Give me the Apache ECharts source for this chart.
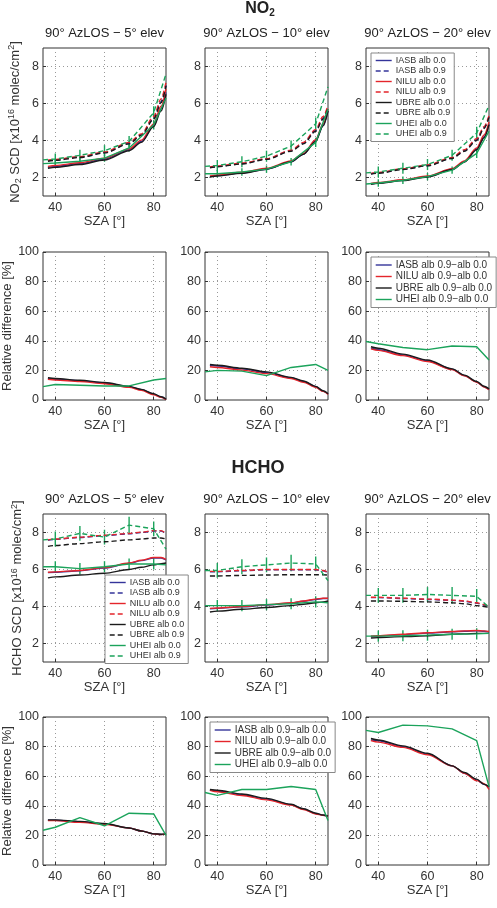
<!DOCTYPE html>
<html>
<head>
<meta charset="utf-8">
<script src="https://cdn.jsdelivr.net/npm/echarts@6/dist/echarts.min.js"></script>
<style>
  html, body { margin: 0; padding: 0; background: #fff; }
  #main { width: 497px; height: 908px; }
</style>
</head>
<body>
<div id="main"></div>
<script>
// SZA grids (model curves are dense, UHEI is piecewise)
var SZA_MOD = [37, 40, 50, 60, 70, 75, 80, 83, 85];
var SZA_UHEI = [35, 40, 50, 60, 70, 80, 85];
var X_TICKS = [40, 60, 80];
var Y_TICKS_SCD = [2, 4, 6, 8];
var ELEVS = ['5', '10', '20'];

// NO2 SCD 5° elev
var n5_IASB_00 = [2.55, 2.6, 2.75, 3.0, 3.5, 3.95, 4.8, 5.7, 6.6];
var n5_NILU_00 = [2.6, 2.65, 2.8, 3.05, 3.55, 4.02, 4.9, 5.85, 6.8];
var n5_UBRE_00 = [2.5, 2.55, 2.7, 2.95, 3.45, 3.9, 4.75, 5.6, 6.5];
var n5_IASB_09 = [2.9, 2.95, 3.1, 3.35, 3.85, 4.3, 5.2, 6.1, 7.0];
var n5_NILU_09 = [2.93, 2.98, 3.13, 3.38, 3.9, 4.36, 5.3, 6.25, 7.15];
var n5_UBRE_09 = [2.88, 2.93, 3.08, 3.33, 3.82, 4.28, 5.15, 6.05, 6.95];
var n5_UHEI_00 = [2.75, 2.78, 2.88, 3.05, 3.6, 4.85, 6.3];
var n5_UHEI_09 = [2.95, 3.0, 3.2, 3.45, 3.95, 5.5, 7.6];
// NO2 SCD 10° elev
var n10_IASB_00 = [2.05, 2.1, 2.25, 2.45, 2.85, 3.25, 4.0, 4.8, 5.6];
var n10_NILU_00 = [2.08, 2.13, 2.28, 2.5, 2.9, 3.3, 4.05, 4.9, 5.7];
var n10_UBRE_00 = [2.03, 2.08, 2.23, 2.45, 2.85, 3.25, 3.95, 4.8, 5.6];
var n10_IASB_09 = [2.55, 2.6, 2.75, 3.0, 3.45, 3.85, 4.55, 5.2, 5.8];
var n10_NILU_09 = [2.57, 2.62, 2.78, 3.02, 3.48, 3.9, 4.6, 5.3, 5.9];
var n10_UBRE_09 = [2.53, 2.58, 2.73, 2.98, 3.42, 3.82, 4.5, 5.15, 5.75];
var n10_UHEI_00 = [2.2, 2.2, 2.3, 2.45, 2.85, 3.9, 5.7];
var n10_UHEI_09 = [2.6, 2.65, 2.85, 3.15, 3.7, 4.9, 6.9];
// NO2 SCD 20° elev
var n20_IASB_00 = [1.65, 1.7, 1.85, 2.05, 2.45, 2.85, 3.55, 4.2, 4.9];
var n20_NILU_00 = [1.68, 1.73, 1.88, 2.08, 2.48, 2.9, 3.6, 4.3, 5.0];
var n20_UBRE_00 = [1.63, 1.68, 1.83, 2.03, 2.43, 2.83, 3.5, 4.15, 4.85];
var n20_IASB_09 = [2.2, 2.25, 2.45, 2.65, 3.05, 3.45, 4.05, 4.7, 5.3];
var n20_NILU_09 = [2.22, 2.27, 2.47, 2.68, 3.08, 3.5, 4.1, 4.75, 5.35];
var n20_UBRE_09 = [2.18, 2.23, 2.43, 2.63, 3.03, 3.42, 4.0, 4.65, 5.25];
var n20_UHEI_00 = [1.65, 1.7, 1.85, 2.05, 2.4, 3.3, 4.5];
var n20_UHEI_09 = [2.25, 2.3, 2.5, 2.7, 3.2, 4.4, 5.9];
// UHEI error bars (NO2)
var nErr_00 = [0, 0.2, 0.2, 0.2, 0.2, 0.25, 0];
var nErr_09 = [0, 0.3, 0.3, 0.3, 0.3, 0.35, 0];

// NO2 relative difference
var nr5_IASB = [14.5, 14, 13, 11.5, 9, 7, 4, 2, 0.5];
var nr5_NILU = [14, 13.5, 12.5, 11, 8.5, 6.5, 3.5, 1.8, 0.3];
var nr5_UBRE = [15, 14.5, 13.3, 11.8, 9.2, 7.2, 4.2, 2.2, 0.6];
var nr5_UHEI = [9, 10.5, 10, 9.5, 9.5, 13.5, 14.5];
var nr10_IASB = [23.5, 23, 21, 18.5, 15, 12.5, 9, 6, 4];
var nr10_NILU = [22.5, 22, 20.2, 17.8, 14.5, 12, 8.6, 5.8, 3.8];
var nr10_UBRE = [24, 23.5, 21.5, 19, 15.3, 12.8, 9.2, 6.2, 4.2];
var nr10_UHEI = [19, 20, 19.5, 16.5, 22, 24, 20];
var nr20_IASB = [35, 34, 30.5, 26.5, 20.8, 16.5, 12.2, 9, 7.2];
var nr20_NILU = [34.5, 33.5, 30, 26, 20.5, 16.3, 12, 8.8, 7];
var nr20_UBRE = [36, 35, 31, 27, 21, 16.8, 12.5, 9.3, 7.5];
var nr20_UHEI = [39.5, 38, 35.5, 34, 36.5, 36, 27];

// HCHO SCD 5° elev
var h5_IASB_00 = [5.83, 5.85, 5.93, 6.08, 6.33, 6.48, 6.62, 6.62, 6.52];
var h5_NILU_00 = [5.85, 5.87, 5.95, 6.1, 6.35, 6.5, 6.65, 6.65, 6.55];
var h5_UBRE_00 = [5.55, 5.6, 5.7, 5.8, 6.0, 6.12, 6.25, 6.32, 6.35];
var h5_IASB_09 = [7.58, 7.63, 7.73, 7.83, 7.93, 8.0, 8.08, 8.08, 7.93];
var h5_NILU_09 = [7.6, 7.65, 7.75, 7.85, 7.95, 8.02, 8.1, 8.1, 7.95];
var h5_UBRE_09 = [7.25, 7.3, 7.4, 7.5, 7.6, 7.65, 7.7, 7.7, 7.65];
var h5_UHEI_00 = [6.15, 6.15, 6.05, 6.15, 6.3, 6.3, 6.25];
var h5_UHEI_09 = [7.6, 7.65, 7.95, 7.75, 8.4, 8.2, 7.1];
// HCHO SCD 10° elev
var h10_IASB_00 = [3.88, 3.9, 3.98, 4.08, 4.18, 4.28, 4.38, 4.43, 4.43];
var h10_NILU_00 = [3.9, 3.92, 4.0, 4.1, 4.2, 4.3, 4.4, 4.45, 4.45];
var h10_UBRE_00 = [3.7, 3.75, 3.85, 3.95, 4.05, 4.12, 4.2, 4.25, 4.3];
var h10_IASB_09 = [5.88, 5.88, 5.93, 5.98, 5.98, 5.98, 5.98, 5.93, 5.83];
var h10_NILU_09 = [5.9, 5.9, 5.95, 6.0, 6.0, 6.0, 6.0, 5.95, 5.85];
var h10_UBRE_09 = [5.65, 5.65, 5.68, 5.7, 5.72, 5.72, 5.72, 5.72, 5.7];
var h10_UHEI_00 = [4.05, 4.05, 4.05, 4.1, 4.15, 4.25, 4.2];
var h10_UHEI_09 = [5.95, 5.95, 6.15, 6.25, 6.35, 6.3, 5.4];
// HCHO SCD 20° elev
var h20_IASB_00 = [2.38, 2.4, 2.48, 2.56, 2.63, 2.66, 2.68, 2.66, 2.63];
var h20_NILU_00 = [2.4, 2.42, 2.5, 2.58, 2.65, 2.68, 2.7, 2.68, 2.65];
var h20_UBRE_00 = [2.3, 2.32, 2.37, 2.42, 2.5, 2.52, 2.55, 2.55, 2.55];
var h20_IASB_09 = [4.48, 4.48, 4.43, 4.38, 4.33, 4.28, 4.18, 4.08, 3.98];
var h20_NILU_09 = [4.5, 4.5, 4.45, 4.4, 4.35, 4.3, 4.2, 4.1, 4.0];
var h20_UBRE_09 = [4.3, 4.3, 4.28, 4.25, 4.2, 4.15, 4.05, 4.0, 3.95];
var h20_UHEI_00 = [2.4, 2.4, 2.42, 2.45, 2.5, 2.52, 2.55];
var h20_UHEI_09 = [4.6, 4.6, 4.6, 4.65, 4.6, 4.55, 3.95];
// UHEI error bars (HCHO)
var hErr_00 = [0, 0.3, 0.3, 0.3, 0.3, 0.3, 0];
var hErr_09 = [0, 0.4, 0.4, 0.4, 0.45, 0.4, 0];

// HCHO relative difference
var hr5_IASB = [30.3, 30.2, 29.2, 27.8, 25, 23, 21, 20.6, 21];
var hr5_NILU = [30, 30, 28.8, 27.5, 25, 23, 21, 20.5, 21];
var hr5_UBRE = [30.5, 30.5, 29.5, 28, 25, 23, 21, 20.8, 21];
var hr5_UHEI = [23.5, 25.5, 32, 26.5, 35, 34.5, 20];
var hr10_IASB = [50.8, 50, 47.5, 44.5, 40.8, 37.8, 34.8, 33.6, 33];
var hr10_NILU = [50.5, 49.5, 47, 44, 40.5, 37.5, 34.5, 33.5, 33];
var hr10_UBRE = [51, 50.5, 48, 45, 41, 38, 35, 33.8, 33];
var hr10_UHEI = [49, 47, 51, 51, 53, 51, 30];
var hr20_IASB = [84.5, 84, 80, 75, 67, 62, 57.5, 54.5, 52.5];
var hr20_NILU = [84, 83, 79.5, 74.5, 67, 62, 57, 55, 51];
var hr20_UBRE = [85.5, 84.5, 80.5, 75.5, 67, 62.5, 58, 54.5, 53];
var hr20_UHEI = [91, 89.5, 94.5, 94, 92, 84, 53];

var COLORS = { IASB: '#34349a', NILU: '#e4252b', UBRE: '#1b1b1b', UHEI: '#1ba35b' };
var GRID_LEFT = [43, 205, 366];
var GRID_TOP = [48, 252, 514, 717];
var GRID_W = 123, GRID_H = 148;
var FONT = 'Liberation Sans, Arial, sans-serif';

function pts(xs, ys) { return xs.map(function (x, i) { return [x, ys[i]]; }); }
function errPts(xs, ys, es) { return xs.map(function (x, i) { return [x, ys[i], es[i]]; }); }

var grids = [], xAxes = [], yAxes = [], series = [];

function addPanel(r, c, isScd, yName) {
  var idx = grids.length;
  grids.push({ left: GRID_LEFT[c], top: GRID_TOP[r], width: GRID_W, height: GRID_H,
    show: true, borderColor: '#333', borderWidth: 1, backgroundColor: '#fff' });
  xAxes.push({ gridIndex: idx, type: 'value', min: 35, max: 85,
    name: 'SZA [°]', nameLocation: 'middle', nameGap: 19,
    nameTextStyle: { fontSize: 13, color: '#333', fontFamily: FONT },
    axisLine: { show: false },
    axisTick: { inside: true, length: 3, lineStyle: { color: '#333' }, customValues: X_TICKS },
    axisLabel: { customValues: X_TICKS, fontSize: 12.5, color: '#333', margin: 5, fontFamily: FONT },
    splitLine: { show: true, lineStyle: { type: [1, 3], color: '#999' } } });
  var y = { gridIndex: idx, type: 'value', min: isScd ? 1 : 0, max: isScd ? 9 : 100,
    axisLine: { show: false },
    axisTick: { inside: true, length: 3, lineStyle: { color: '#333' } },
    axisLabel: { fontSize: 12.5, color: '#333', margin: 4, fontFamily: FONT },
    splitLine: { show: true, lineStyle: { type: [1, 3], color: '#999' } } };
  if (isScd) {
    y.axisTick.customValues = Y_TICKS_SCD;
    y.axisLabel.customValues = Y_TICKS_SCD;
  } else {
    y.interval = 20;
  }
  if (yName) {
    y.name = yName.text;
    y.nameLocation = 'middle';
    y.nameGap = yName.gap;
    y.nameTextStyle = { fontSize: 13, color: '#333', fontFamily: FONT,
      rich: { sub: { fontSize: 9, color: '#333', padding: [7, 0, 0, 0], fontFamily: FONT },
              sup: { fontSize: 9, color: '#333', padding: [0, 0, 6, 0], fontFamily: FONT } } };
  }
  yAxes.push(y);
  return idx;
}

function addLine(idx, name, color, xs, ys, dashed, smooth) {
  series.push({ type: 'line', name: name, xAxisIndex: idx, yAxisIndex: idx,
    data: pts(xs, ys), symbol: 'none', smooth: smooth ? 0.3 : false, smoothMonotone: 'x',
    lineStyle: { color: color, width: 1.4, type: dashed ? [5, 3] : 'solid' },
    itemStyle: { color: color }, animation: false, silent: true });
}

function addErr(idx, ys, es) {
  series.push({ type: 'custom', name: 'UHEI err', xAxisIndex: idx, yAxisIndex: idx,
    data: errPts(SZA_UHEI, ys, es), encode: { x: 0, y: 1 }, animation: false, silent: true, z: 3,
    renderItem: function (params, api) {
      var x = api.value(0), v = api.value(1), e = api.value(2);
      if (!e) return;
      var p1 = api.coord([x, v - e]), p2 = api.coord([x, v + e]);
      return { type: 'line', shape: { x1: p1[0], y1: p1[1], x2: p2[0], y2: p2[1] },
        style: { stroke: COLORS.UHEI, lineWidth: 1.4 } };
    } });
}

function scdPanel(r, c, d, errA0, errA9, yName) {
  var idx = addPanel(r, c, true, yName);
  addLine(idx, 'IASB alb 0.0', COLORS.IASB, SZA_MOD, d[0], false, true);
  addLine(idx, 'IASB alb 0.9', COLORS.IASB, SZA_MOD, d[1], true, true);
  addLine(idx, 'NILU alb 0.0', COLORS.NILU, SZA_MOD, d[2], false, true);
  addLine(idx, 'NILU alb 0.9', COLORS.NILU, SZA_MOD, d[3], true, true);
  addLine(idx, 'UBRE alb 0.0', COLORS.UBRE, SZA_MOD, d[4], false, true);
  addLine(idx, 'UBRE alb 0.9', COLORS.UBRE, SZA_MOD, d[5], true, true);
  addLine(idx, 'UHEI alb 0.0', COLORS.UHEI, SZA_UHEI, d[6], false, false);
  addLine(idx, 'UHEI alb 0.9', COLORS.UHEI, SZA_UHEI, d[7], true, false);
  addErr(idx, d[6], errA0);
  addErr(idx, d[7], errA9);
}

function diffPanel(r, c, d, yName) {
  var idx = addPanel(r, c, false, yName);
  addLine(idx, 'IASB alb 0.9−alb 0.0', COLORS.IASB, SZA_MOD, d[0], false, true);
  addLine(idx, 'NILU alb 0.9−alb 0.0', COLORS.NILU, SZA_MOD, d[1], false, true);
  addLine(idx, 'UBRE alb 0.9−alb 0.0', COLORS.UBRE, SZA_MOD, d[2], false, true);
  addLine(idx, 'UHEI alb 0.9−alb 0.0', COLORS.UHEI, SZA_UHEI, d[3], false, false);
}

var no2Name = { text: 'NO{sub|2} SCD [x10{sup|16} molec/cm{sup|2}]', gap: 20 };
var hchoName = { text: 'HCHO SCD [x10{sup|16} molec/cm{sup|2}]', gap: 18 };
var diffName = { text: 'Relative difference [%]', gap: 29 };

scdPanel(0, 0, [n5_IASB_00, n5_IASB_09, n5_NILU_00, n5_NILU_09, n5_UBRE_00, n5_UBRE_09, n5_UHEI_00, n5_UHEI_09], nErr_00, nErr_09, no2Name);
scdPanel(0, 1, [n10_IASB_00, n10_IASB_09, n10_NILU_00, n10_NILU_09, n10_UBRE_00, n10_UBRE_09, n10_UHEI_00, n10_UHEI_09], nErr_00, nErr_09);
scdPanel(0, 2, [n20_IASB_00, n20_IASB_09, n20_NILU_00, n20_NILU_09, n20_UBRE_00, n20_UBRE_09, n20_UHEI_00, n20_UHEI_09], nErr_00, nErr_09);
diffPanel(1, 0, [nr5_IASB, nr5_NILU, nr5_UBRE, nr5_UHEI], diffName);
diffPanel(1, 1, [nr10_IASB, nr10_NILU, nr10_UBRE, nr10_UHEI]);
diffPanel(1, 2, [nr20_IASB, nr20_NILU, nr20_UBRE, nr20_UHEI]);
scdPanel(2, 0, [h5_IASB_00, h5_IASB_09, h5_NILU_00, h5_NILU_09, h5_UBRE_00, h5_UBRE_09, h5_UHEI_00, h5_UHEI_09], hErr_00, hErr_09, hchoName);
scdPanel(2, 1, [h10_IASB_00, h10_IASB_09, h10_NILU_00, h10_NILU_09, h10_UBRE_00, h10_UBRE_09, h10_UHEI_00, h10_UHEI_09], hErr_00, hErr_09);
scdPanel(2, 2, [h20_IASB_00, h20_IASB_09, h20_NILU_00, h20_NILU_09, h20_UBRE_00, h20_UBRE_09, h20_UHEI_00, h20_UHEI_09], hErr_00, hErr_09);
diffPanel(3, 0, [hr5_IASB, hr5_NILU, hr5_UBRE, hr5_UHEI], diffName);
diffPanel(3, 1, [hr10_IASB, hr10_NILU, hr10_UBRE, hr10_UHEI]);
diffPanel(3, 2, [hr20_IASB, hr20_NILU, hr20_UBRE, hr20_UHEI]);

var scdLegend = ['IASB alb 0.0', 'IASB alb 0.9', 'NILU alb 0.0', 'NILU alb 0.9',
  'UBRE alb 0.0', 'UBRE alb 0.9', 'UHEI alb 0.0', 'UHEI alb 0.9'];
var diffLegend = ['IASB alb 0.9−alb 0.0', 'NILU alb 0.9−alb 0.0', 'UBRE alb 0.9−alb 0.0', 'UHEI alb 0.9−alb 0.0'];

function legend(data, left, top, fs, lh, gap) {
  return { data: data, orient: 'vertical', left: left, top: top, itemWidth: 16, itemHeight: 7,
    itemGap: gap, padding: [3, 4, 3, 4], backgroundColor: '#fff', borderColor: '#888', borderWidth: 1,
    borderRadius: 0, selectedMode: false,
    itemStyle: { opacity: 0 },
    lineStyle: { width: 1.4 },
    textStyle: { fontSize: fs, lineHeight: lh, color: '#333', fontFamily: FONT, padding: [0, 0, 0, -1] } };
}

var titles = [
  { text: 'NO{s|2}', left: 260, top: 0, padding: 0, textAlign: 'center',
    textStyle: { fontSize: 16, fontWeight: 'bold', color: '#222', fontFamily: FONT,
      rich: { s: { fontSize: 10, fontWeight: 'bold', color: '#222', padding: [8, 0, 0, 0], fontFamily: FONT } } } },
  { text: 'HCHO', left: 258, top: 459, padding: 0, textAlign: 'center',
    textStyle: { fontSize: 18, fontWeight: 'bold', color: '#222', fontFamily: FONT } }
];
[0, 2].forEach(function (r) {
  ELEVS.forEach(function (e, c) {
    titles.push({ text: '90° AzLOS − ' + e + '° elev', left: GRID_LEFT[c] + GRID_W / 2,
      top: GRID_TOP[r] - 21, padding: 0, textAlign: 'center',
      textStyle: { fontSize: 13, fontWeight: 'normal', color: '#222', fontFamily: FONT } });
  });
});

var myChart = echarts.init(document.getElementById('main'));
myChart.setOption({
  backgroundColor: '#fff',
  animation: false,
  title: titles,
  grid: grids,
  xAxis: xAxes,
  yAxis: yAxes,
  legend: [
    legend(scdLegend, 371, 53, 9, 8, 1.5),
    legend(diffLegend, 371, 257, 10, 9, 1.5),
    legend(scdLegend, 105, 575, 9, 8, 1.5),
    legend(diffLegend, 210, 722, 10, 9, 1.5)
  ],
  series: series
});
</script>
</body>
</html>
